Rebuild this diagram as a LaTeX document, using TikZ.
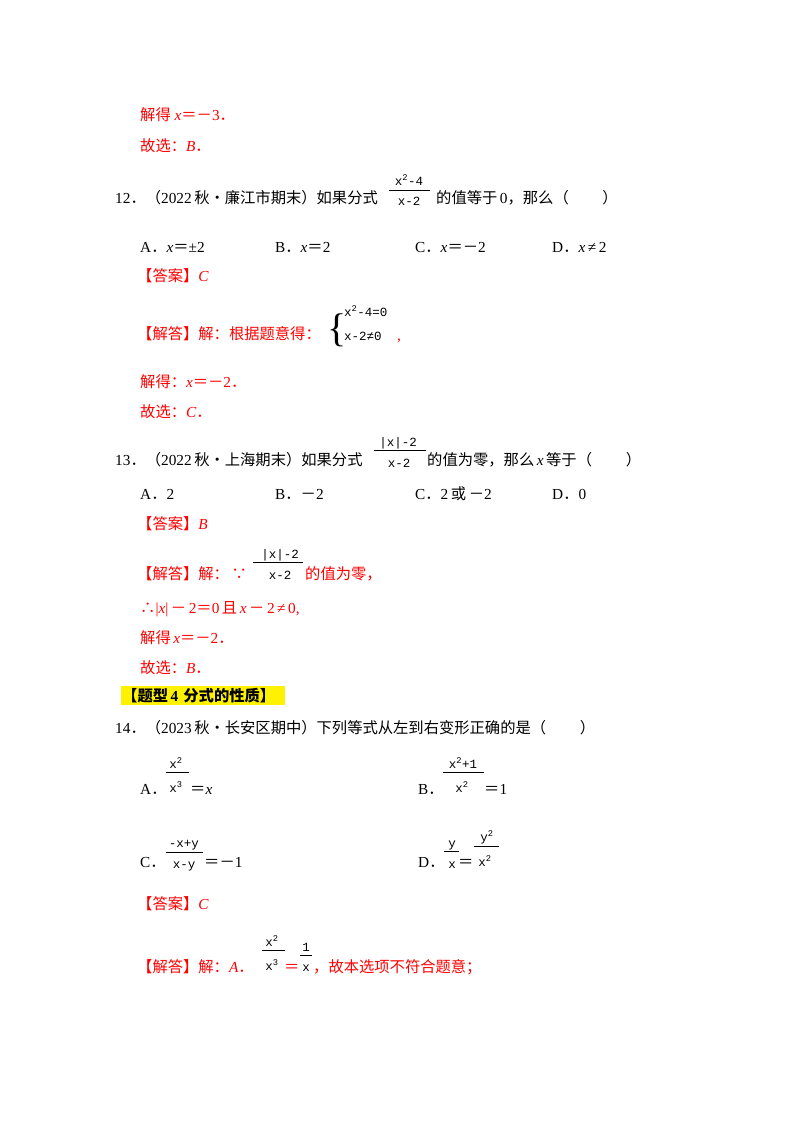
\documentclass[tikz,border=0pt]{standalone}
\usepackage{fontspec}
\setmainfont{Liberation Serif}
\newfontfamily\cjk{Noto Sans CJK SC}
\newfontfamily\frf{Liberation Mono}
\newcommand\zh[1]{{\cjk #1}}
\newcommand\pd{\zh{．}}
\newcommand\eqz{\zh{＝}}
\definecolor{ansred}{RGB}{255,0,0}
\begin{document}
\begin{tikzpicture}[x=1pt,y=-1pt,
  tx/.style={anchor=base west,inner sep=0pt,font=\fontsize{15.3}{17}\selectfont},
  rd/.style={tx,text=ansred},
  fn/.style={anchor=base,inner sep=0pt,font=\frf\fontsize{12.5}{13}\selectfont},
  fl/.style={line width=0.7pt}]
\useasboundingbox (0,0) rectangle (800,1132);
\begin{scope}[shift={(0,5)}]
% top
\node[rd] (a1) at (140,115) {\zh{解得} \textit{x}\eqz\zh{－}3\pd};
\node[rd] (a2) at (140,146) {\zh{故选：}\textit{B}\pd};
% Q12
\node[tx] (q12) at (115,198) {12\pd\zh{（}2022\,\zh{秋•廉江市期末）如果分式}};
\node[fn] (q12n) at (409,180) {x\textsuperscript{2}-4};
\draw[fl] (389,185) -- (430,185);
\node[fn] (q12d) at (409,200) {x-2};
\node[tx] (q12b) at (436,198) {\zh{的值等于}\,0\zh{，那么（}\hspace{2.2em}\zh{）}};
\node[tx] (o12a) at (140,247) {A\pd\textit{x}\eqz±2};
\node[tx] (o12b) at (275,247) {B\pd\textit{x}\eqz 2};
\node[tx] (o12c) at (415,247) {C\pd\textit{x}\eqz\zh{－}2};
\node[tx] (o12d) at (552,247) {D\pd\textit{x}\,≠\,2};
\node[rd] (ans12) at (137,276) {\zh{【答案】}\textit{C}};
\node[rd] (sol12) at (137,334) {\zh{【解答】解：根据题意得：}};
\node[anchor=base,inner sep=0pt,font=\fontsize{40}{40}\selectfont] (br) at (337,336) {\{};
\node[fn,anchor=base west] (c1) at (344,311) {x\textsuperscript{2}-4=0};
\node[fn,anchor=base west] (c2) at (344,335) {x-2≠0};
\node[rd] (cm) at (397,335) {,};
\node[rd] (r12a) at (140,382) {\zh{解得：}\textit{x}\eqz\zh{－}2\pd};
\node[rd] (r12b) at (140,412) {\zh{故选：}\textit{C}\pd};
% Q13
\node[tx] (q13) at (115,460) {13\pd\zh{（}2022\,\zh{秋•上海期末）如果分式}};
\node[fn] (q13n) at (398,441) {|x|-2};
\draw[fl] (374,445) -- (426,445);
\node[fn] (q13d) at (399,462) {x-2};
\node[tx] (q13b) at (427,460) {\zh{的值为零，那么}\,\textit{x}\,\zh{等于（}\hspace{2.2em}\zh{）}};
\node[tx] (o13a) at (140,494) {A\pd 2};
\node[tx] (o13b) at (275,494) {B\pd\zh{－}2};
\node[tx] (o13c) at (415,494) {C\pd 2\,\zh{或}\,\zh{－}2};
\node[tx] (o13d) at (552,494) {D\pd 0};
\node[rd] (ans13) at (137,524) {\zh{【答案】}\textit{B}};
\node[rd] (sol13) at (137,574) {\zh{【解答】解：}\,\zh{∵}};
\node[fn] (s13n) at (280,553) {|x|-2};
\draw[fl] (253,557) -- (303,557);
\node[fn] (s13d) at (280,574) {x-2};
\node[rd] (s13b) at (305,574) {\zh{的值为零，}};
\node[rd] (t13) at (140,608) {\zh{∴}|\textit{x}|\,\zh{－}\,2\eqz 0\,\zh{且}\,\textit{x}\,\zh{－}\,2\,≠\,0,};
\node[rd] (r13a) at (140,638) {\zh{解得}\,\textit{x}\eqz\zh{－}2\pd};
\node[rd] (r13b) at (140,668) {\zh{故选：}\textit{B}\pd};
% heading
\fill[yellow] (121,681) rectangle (285,700);
\node[tx,font=\fontsize{15.3}{17}\selectfont\bfseries] (hd) at (122,696) {\zh{\bfseries 【题型}\,4\,\,\zh{\bfseries 分式的性质】}};
% Q14
\node[tx] (q14) at (115,728) {14\pd\zh{（}2023\,\zh{秋•长安区期中）下列等式从左到右变形正确的是（}\hspace{2.2em}\zh{）}};
\node[tx] (o14a) at (140,789) {A\pd};
\node[fn] (aN) at (176,763) {x\textsuperscript{2}};
\draw[fl] (166,767) -- (189,767);
\node[fn] (aD) at (176,787) {x\textsuperscript{3}};
\node[tx] (aE) at (190,789) {\eqz\textit{x}};
\node[tx] (o14b) at (418,789) {B\pd};
\node[fn] (bN) at (463,763) {x\textsuperscript{2}+1};
\draw[fl] (443,767) -- (484,767);
\node[fn] (bD) at (462,787) {x\textsuperscript{2}};
\node[tx] (bE) at (484,789) {\eqz 1};
\node[tx] (o14c) at (140,862) {C\pd};
\node[fn] (cN) at (184,842) {-x+y};
\draw[fl] (166,847) -- (203,847);
\node[fn] (cD) at (184,863) {x-y};
\node[tx] (cE) at (204,862) {\eqz\zh{－}1};
\node[tx] (o14d) at (418,862) {D\pd};
\node[fn] (dN1) at (452,842) {y};
\draw[fl] (444,846) -- (459,846);
\node[fn] (dD1) at (452,863) {x};
\node[tx] (dE) at (458,862) {\eqz};
\node[fn] (dN2) at (487,836) {y\textsuperscript{2}};
\draw[fl] (474,841) -- (499,841);
\node[fn] (dD2) at (485,861) {x\textsuperscript{2}};
\node[rd] (ans14) at (137,904) {\zh{【答案】}\textit{C}};
\node[rd] (sol14) at (137,967) {\zh{【解答】解：}\textit{A}\pd};
\node[fn] (eN) at (272,941) {x\textsuperscript{2}};
\draw[fl] (262,945) -- (285,945);
\node[fn] (eD) at (272,965) {x\textsuperscript{3}};
\node[rd] (eE) at (284,967) {\eqz};
\node[fn] (fN) at (306,946) {1};
\draw[fl] (300,950) -- (312,950);
\node[fn] (fD) at (306,966) {x};
\node[rd] (tl) at (313,967) {\zh{，故本选项不符合题意；}};
\end{scope}
\end{tikzpicture}
\end{document}
